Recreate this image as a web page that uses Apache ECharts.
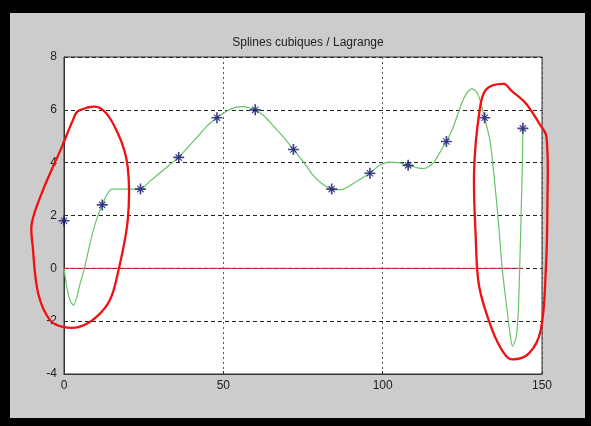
<!DOCTYPE html>
<html>
<head>
<meta charset="utf-8">
<script src="https://cdn.jsdelivr.net/npm/echarts@6/dist/echarts.min.js"></script>
<style>
  body { margin: 0; background: #000; }
  #frame { position: absolute; left: 0; top: 0; width: 591px; height: 426px; background: #000; }
  #main { position: absolute; left: 10px; top: 13px; width: 575px; height: 405px; background: #cccccc; }
</style>
</head>
<body>
<div id="frame"><div id="main"></div></div>
<script>
// noeuds d'interpolation (etoiles bleues)
var knotX = [0, 12, 24, 36, 48, 60, 72, 84, 96, 108, 120, 132, 144];
var knotY = [1.8, 2.4, 3.0, 4.2, 5.7, 6.0, 4.5, 3.0, 3.6, 3.9, 4.8, 5.7, 5.3];

// courbe verte
var curveX = [0, 1, 2, 3, 4, 5, 6.4, 8, 9, 10.5, 12, 13.5, 15, 18, 21, 24, 27, 30, 33, 36,
  39, 42, 45, 48, 51, 54, 56, 58, 60, 63, 66, 69, 72, 75, 78, 81, 84, 87, 90, 93, 96,
  99, 102, 105, 108, 111, 113, 116, 118, 120, 122, 124.8, 126.5, 128, 129.3, 130.2, 132,
  133.8, 136, 137.5, 139, 140, 140.7, 141.4, 142, 142.6, 143, 143.8, 144];
var curveY = [0, -0.8, -1.25, -1.4, -1.1, -0.6, 0, 0.85, 1.35, 1.95, 2.4, 2.8, 3.0, 3.0, 3.0, 3.0, 3.3, 3.6, 3.9, 4.2,
  4.6, 5.0, 5.4, 5.7, 5.95, 6.1, 6.12, 6.08, 6.0, 5.75, 5.35, 4.95, 4.5, 4.05, 3.55, 3.2, 3.0, 2.98, 3.15, 3.38, 3.6,
  3.9, 4.02, 4.0, 3.9, 3.8, 3.78, 4.0, 4.4, 4.8, 5.3, 6.25, 6.65, 6.8, 6.7, 6.5, 5.7,
  4.75, 2.2, 0, -1.55, -2.5, -2.95, -2.8, -2.55, -1.5, 0, 3.7, 5.3];

// droite y = 0
var zeroX = [0, 144];
var zeroY = [0, 0];

// cercles rouges tracés à la main
var leftRingX = [4.5, 11.3, 16.9, 20.0, 20.0, 16.9, 14.4, 10.2, 5.0, -0.3, -4.4, -8.1, -9.8, -10.1, -6.6, -0.7, 2.8];
var leftRingY = [5.96, 6.07, 5.11, 3.83, 1.82, -0.18, -1.2, -1.84, -2.21, -2.22, -1.96, -0.95, 0.81, 1.71, 2.96, 4.59, 5.61];
var rightRingX = [138.1, 140.2, 144.9, 149.1, 151.4, 151.7, 151.2, 149.6, 145.9, 140.7, 138.1, 134.4, 130.3, 129.2, 128.7, 130.3, 132.4];
var rightRingY = [6.98, 6.75, 6.25, 5.49, 4.98, 2.46, -0.06, -2.34, -3.22, -3.45, -3.22, -2.34, -0.7, 1.2, 3.72, 5.87, 6.76];

var xTicks = [0, 150, 50];
var yTicks = [-4, 8, 2];

function pairs(xs, ys) {
  return xs.map(function (x, i) { return [x, ys[i]]; });
}

// etoile matlab '*' : croix epaisse + diagonales fines
var starPath = 'path://M8.5 0L11.5 0L11.5 20L8.5 20Z M0 8.5L20 8.5L20 11.5L0 11.5Z ' +
  'M3.5 5L5 3.5L16.5 15L15 16.5Z M15 3.5L16.5 5L5 16.5L3.5 15Z';

var rings = [pairs(leftRingX, leftRingY), pairs(rightRingX, rightRingY)];

var myChart = echarts.init(document.getElementById('main'));
var font = 'Liberation Sans, DejaVu Sans, sans-serif';

var option = {
  animation: false,
  backgroundColor: '#cccccc',
  title: {
    text: 'Splines cubiques / Lagrange',
    left: 293, top: 19,
    textAlign: 'center',
    textStyle: { fontSize: 12, fontWeight: 'normal', color: '#222', fontFamily: font }
  },
  grid: {
    left: 54, right: 43, top: 44, bottom: 44,
    show: true, backgroundColor: '#fff', borderColor: '#333', borderWidth: 1
  },
  xAxis: {
    type: 'value', min: xTicks[0], max: xTicks[1], interval: xTicks[2],
    axisLine: { show: true, onZero: false, lineStyle: { color: '#333' } },
    axisTick: { show: true, inside: true, length: 3, lineStyle: { color: '#333' } },
    axisLabel: { color: '#222', fontSize: 12, margin: 6, fontFamily: font },
    splitLine: { show: true, lineStyle: { color: '#555', type: [2, 3], width: 1 } }
  },
  yAxis: {
    type: 'value', min: yTicks[0], max: yTicks[1], interval: yTicks[2],
    axisLine: { show: true, onZero: false, lineStyle: { color: '#333' } },
    axisTick: { show: true, inside: true, length: 3, lineStyle: { color: '#333' } },
    axisLabel: { color: '#222', fontSize: 12, margin: 7, fontFamily: font },
    splitLine: { show: true, lineStyle: { color: '#222', type: [4, 3], width: 1 } }
  },
  series: [
    {
      name: 'zero', type: 'line', data: pairs(zeroX, zeroY),
      symbol: 'none', lineStyle: { color: '#b82828', width: 1 }, z: 2
    },
    {
      name: 'spline', type: 'line', data: pairs(curveX, curveY),
      symbol: 'none', smooth: 0.2,
      lineStyle: { color: '#66c466', width: 1.2 }, z: 3
    },
    {
      name: 'noeuds', type: 'scatter', data: pairs(knotX, knotY),
      symbol: starPath, symbolSize: 11,
      itemStyle: { color: '#121270' }, z: 4
    },
    {
      // les deux cercles rouges, passés par l'échelle des axes (non découpés)
      name: 'cercles', type: 'custom', clip: false, z: 5,
      data: [[rings[0][0][0], rings[0][0][1], 0], [rings[1][0][0], rings[1][0][1], 1]],
      renderItem: function (params, api) {
        var ring = rings[api.value(2)];
        var pts = ring.map(function (p) { return api.coord(p); });
        return {
          type: 'polygon',
          shape: { points: pts, smooth: 0.35 },
          style: { fill: null, stroke: '#f01010', lineWidth: 2.3 }
        };
      }
    }
  ]
};
myChart.setOption(option);
</script>
</body>
</html>
